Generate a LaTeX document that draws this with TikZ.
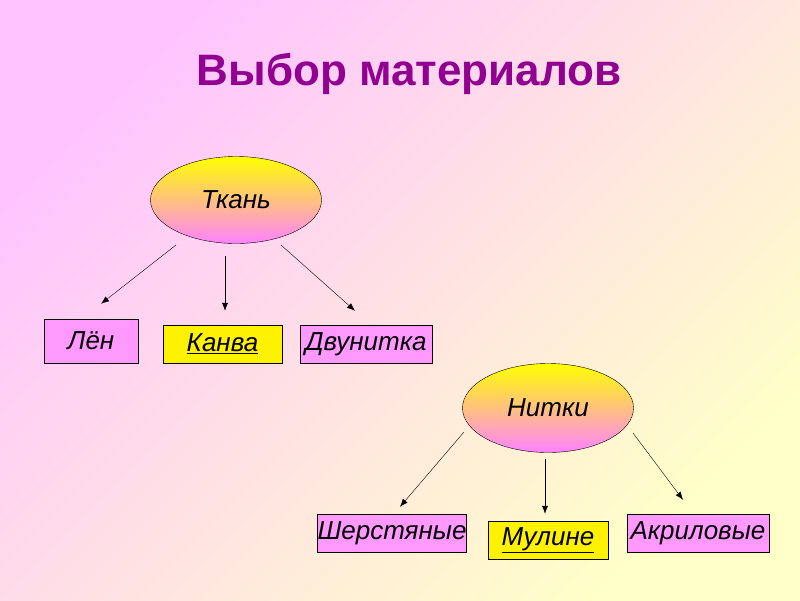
\documentclass[tikz,border=0pt]{standalone}
\usepackage{fontspec}
\setmainfont{Liberation Sans}
\usepackage{tikz}
\usetikzlibrary{arrows.meta,shapes.geometric,calc}

\definecolor{bgpink}{RGB}{255,196,255}
\definecolor{bgyellow}{RGB}{255,255,200}
\definecolor{titlepurple}{RGB}{145,0,145}
\definecolor{boxviolet}{RGB}{255,153,255}
\definecolor{ovalpink}{RGB}{255,130,255}

\begin{document}
\begin{tikzpicture}
        [
        x=1pt, y=-1pt,
        oval/.style={ellipse,draw,thin,top color=yellow,bottom color=ovalpink,
                     minimum width=171pt,minimum height=87pt,inner sep=0pt,
                     font=\fontsize{26}{30}\selectfont\itshape},
        box/.style={rectangle,draw,thin,fill=boxviolet,minimum height=38pt,inner sep=0pt,
                    font=\fontsize{26}{30}\selectfont\itshape},
        ybox/.style={box,fill=yellow},
        edge/.style={-{Latex[length=8pt,width=6pt]},thin}
        ]
    \useasboundingbox (0,0) rectangle (800,600);
    \shade[top color=bgpink,bottom color=bgyellow,shading angle=45] (0,0) rectangle (800,600);
    \node[text=titlepurple,font=\fontsize{44}{52}\selectfont\bfseries] (title) at (409,74) {Выбор материалов};
    % fabric
    \node[oval] (tkan) at (236,200) {Ткань};
    \node[box,minimum width=94pt,minimum height=44pt] (len) at (91,341) {Лён};
    \node[ybox,minimum width=119pt] (kanva) at (222.5,344) {\underline{Канва}};
    \node[box,minimum width=132pt] (dvu) at (366,344) {Двунитка};
    \draw[edge] ($(tkan)+(-60,45)$) -- ($(len.north)+(10,-15)$);
    \draw[edge] ($(tkan)+(-11,56)$) -- ($(kanva.north)+(2.5,-14)$);
    \draw[edge] ($(tkan)+(45,45)$) -- ($(dvu.north)+(-11,-14)$);
    % threads
    \node[oval,minimum height=89pt] (nitki) at (548,408) {Нитки};
    \node[box,minimum width=148pt] (sherst) at (392,533) {Шерстяные};
    \node[ybox,minimum width=120pt] (mul) at (548,540) {\underline{Мулине}};
    \node[box,minimum width=142pt] (akr) at (698,533) {Акриловые};
    \draw[edge] ($(nitki)+(-84,24)$) -- ($(sherst.north)+(8,-7)$);
    \draw[edge] ($(nitki)+(-3,51)$) -- ($(mul.north)+(-3,-7)$);
    \draw[edge] ($(nitki)+(85,25)$) -- ($(akr.north)+(-15,-14)$);
\end{tikzpicture}
\end{document}
